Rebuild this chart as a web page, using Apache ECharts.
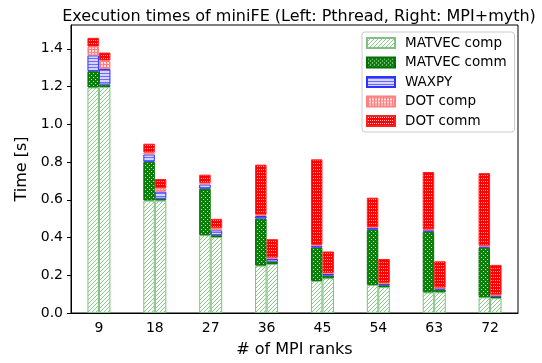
<!DOCTYPE html>
<html>
<head>
<meta charset="utf-8">
<script src="https://cdn.jsdelivr.net/npm/echarts@6/dist/echarts.min.js"></script>
<style>
  html, body { margin: 0; padding: 0; background: #fff; }
  #chart { width: 542px; height: 363px; }
</style>
</head>
<body>
<div id="chart"></div>
<script>
const categories = ['9', '18', '27', '36', '45', '54', '63', '72'];
const yTicks = [0, 0.2, 0.4, 0.6, 0.8, 1.0, 1.2, 1.4];

// Left bars: Pthread
const matvecCompP = [1.195, 0.596, 0.412, 0.251, 0.170, 0.149, 0.109, 0.083];
const matvecCommP = [0.086, 0.205, 0.246, 0.249, 0.176, 0.292, 0.321, 0.263];
const waxpyP      = [0.084, 0.039, 0.023, 0.014, 0.010, 0.010, 0.009, 0.007];
const dotCompP    = [0.047, 0.010, 0.008, 0.007, 0.005, 0.004, 0.004, 0.004];
const dotCommP    = [0.046, 0.047, 0.044, 0.265, 0.453, 0.156, 0.304, 0.384];

// Right bars: MPI+myth
const matvecCompM = [1.198, 0.596, 0.402, 0.260, 0.184, 0.137, 0.110, 0.079];
const matvecCommM = [0.012, 0.009, 0.010, 0.012, 0.014, 0.010, 0.014, 0.007];
const waxpyM      = [0.083, 0.038, 0.026, 0.014, 0.009, 0.009, 0.007, 0.007];
const dotCompM    = [0.045, 0.018, 0.012, 0.007, 0.005, 0.004, 0.004, 0.004];
const dotCommM    = [0.042, 0.049, 0.049, 0.098, 0.114, 0.126, 0.139, 0.158];

// small canvas tiles for the hatch fills
const makePattern = (w, h, draw) => {
    const c = document.createElement('canvas');
    c.width = w;
    c.height = h;
    draw(c.getContext('2d'), w, h);
    return { image: c, repeat: 'repeat' };
};

const hatchDiag = makePattern(4, 4, (ctx, w, h) => {
    ctx.fillStyle = '#ffffff';
    ctx.fillRect(0, 0, w, h);
    ctx.strokeStyle = '#8cc98c';
    ctx.lineWidth = 1;
    ctx.beginPath();
    ctx.moveTo(0, h); ctx.lineTo(w, 0);
    ctx.moveTo(-1, 1); ctx.lineTo(1, -1);
    ctx.moveTo(w - 1, h + 1); ctx.lineTo(w + 1, h - 1);
    ctx.stroke();
});

const hatchCross = makePattern(4, 4, (ctx, w, h) => {
    ctx.fillStyle = '#0a800a';
    ctx.fillRect(0, 0, w, h);
    ctx.fillStyle = 'rgba(255,255,255,0.85)';
    ctx.fillRect(1, 1, 1, 1);
    ctx.fillRect(3, 3, 1, 1);
});

const hatchHoriz = makePattern(3, 3, (ctx, w, h) => {
    ctx.fillStyle = '#d4d4ff';
    ctx.fillRect(0, 0, w, h);
    ctx.fillStyle = '#6b6bff';
    ctx.fillRect(0, 1, w, 1);
});

const hatchGrid = makePattern(3, 3, (ctx, w, h) => {
    ctx.fillStyle = '#ffe0e0';
    ctx.fillRect(0, 0, w, h);
    ctx.fillStyle = '#ff7f7f';
    ctx.fillRect(0, 1, w, 1);
    ctx.fillRect(1, 0, 1, h);
});

const hatchDots = makePattern(4, 3, (ctx, w, h) => {
    ctx.fillStyle = '#ff0000';
    ctx.fillRect(0, 0, w, h);
    ctx.fillStyle = 'rgba(255,255,255,0.75)';
    ctx.fillRect(1, 1, 1, 1);
    ctx.fillRect(3, 1, 1, 1);
});

const layers = [
    { name: 'MATVEC comp', p: matvecCompP, m: matvecCompM, fill: hatchDiag, border: '#80c080' },
    { name: 'MATVEC comm', p: matvecCommP, m: matvecCommM, fill: hatchCross, border: '#007000' },
    { name: 'WAXPY', p: waxpyP, m: waxpyM, fill: hatchHoriz, border: '#3030ff' },
    { name: 'DOT comp', p: dotCompP, m: dotCompM, fill: hatchGrid, border: '#ff8080' },
    { name: 'DOT comm', p: dotCommP, m: dotCommM, fill: hatchDots, border: '#ff2020' }
];

const series = [];
['p', 'm'].forEach(stack => {
    layers.forEach(l => {
        series.push({
            name: l.name,
            type: 'bar',
            stack: stack,
            barWidth: 11.5,
            barGap: '0%',
            itemStyle: { color: l.fill, borderColor: l.border, borderWidth: 1 },
            data: l[stack]
        });
    });
});

const myChart = echarts.init(document.getElementById('chart'), null, { renderer: 'canvas' });

const option = {
    backgroundColor: '#fff',
    animation: false,
    textStyle: { fontFamily: 'DejaVu Sans' },
    title: {
        text: 'Execution times of miniFE (Left: Pthread, Right: MPI+myth)',
        left: 294,
        top: 4,
        textAlign: 'center',
        textStyle: { fontSize: 16, fontWeight: 'normal', color: '#000', fontFamily: 'DejaVu Sans' }
    },
    legend: {
        orient: 'vertical',
        left: 362,
        top: 32,
        padding: [4, 8, 4, 4],
        icon: 'rect',
        itemWidth: 28,
        itemHeight: 10,
        itemGap: 5.5,
        borderColor: '#cccccc',
        borderWidth: 1,
        borderRadius: 3,
        backgroundColor: 'rgba(255,255,255,0.8)',
        data: layers.map(l => l.name),
        textStyle: { fontSize: 13.5, lineHeight: 13.5, color: '#000', fontFamily: 'DejaVu Sans', padding: [0, 0, 0, 5] }
    },
    grid: {
        left: 71,
        right: 24,
        top: 25,
        bottom: 48,
        show: true,
        borderColor: '#000',
        borderWidth: 1
    },
    xAxis: {
        type: 'category',
        data: categories,
        name: '# of MPI ranks',
        nameLocation: 'middle',
        nameGap: 29,
        nameTextStyle: { fontSize: 16, color: '#000' },
        axisLine: { lineStyle: { color: '#000', width: 1 } },
        axisTick: { alignWithLabel: true, length: 4, lineStyle: { color: '#000' } },
        axisLabel: { fontSize: 14, color: '#000', margin: 8 }
    },
    yAxis: {
        type: 'value',
        min: 0,
        max: 1.526,
        interval: 0.2,
        name: 'Time [s]',
        nameLocation: 'middle',
        nameGap: 40,
        nameTextStyle: { fontSize: 16, color: '#000' },
        splitLine: { show: false },
        axisLine: { show: true, lineStyle: { color: '#000', width: 1 } },
        axisTick: { show: true, length: 4, lineStyle: { color: '#000' }, customValues: yTicks },
        axisLabel: {
            fontSize: 14, color: '#000', margin: 8,
            customValues: yTicks,
            formatter: v => v.toFixed(1)
        }
    },
    series: series
};

myChart.setOption(option);
window.addEventListener('resize', () => myChart.resize());
</script>
</body>
</html>
